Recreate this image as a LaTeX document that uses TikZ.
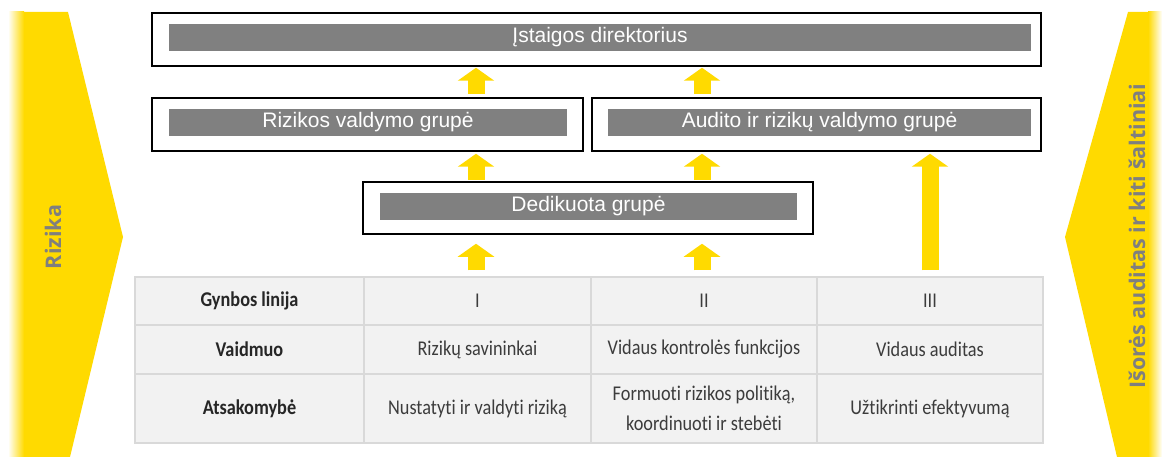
\documentclass[tikz,border=0pt]{standalone}
\usepackage{fontspec}
\setmainfont{Liberation Sans}
\newfontfamily\tblfont[FakeStretch=0.87,RawFeature={-liga}]{Carlito}
\newfontfamily\sidefont{Open Sans}
\usetikzlibrary{arrows.meta}
\definecolor{ylw}{RGB}{255,218,0}
\definecolor{bargray}{RGB}{128,128,128}
\definecolor{sidegray}{RGB}{127,127,127}
\definecolor{tblfill}{RGB}{242,242,242}
\definecolor{tblline}{RGB}{217,217,217}
\definecolor{tbltext}{RGB}{60,60,60}
\definecolor{tblhead}{RGB}{38,38,38}
\begin{document}
\begin{tikzpicture}[x=1pt,y=-1pt,
  outerbox/.style={draw=black, line width=1.5pt, fill=white, inner sep=0pt},
  barbox/.style={fill=bargray, text=white, font=\fontsize{21}{25}\selectfont, minimum height=27pt, inner sep=0pt},
  yarrow/.style={draw=ylw, line width=17pt, -{Triangle[width=36pt,length=13pt]}},
  cell/.style={draw=tblline, line width=1.5pt, fill=tblfill, inner sep=0pt, align=center, text=tbltext, font=\tblfont\fontsize{21}{30}\selectfont},
  headcell/.style={cell, text=tblhead, font=\tblfont\bfseries\fontsize{21}{30}\selectfont},
  sidetext/.style={text=sidegray, font=\sidefont\bfseries\fontsize{21.5}{25}\selectfont, rotate=90}
]
\useasboundingbox (0,0) rectangle (1164,457);
\fill[white] (0,0) rectangle (1164,457);

% side chevrons
\fill[ylw] (22,12) -- (68,12) -- (123,237) -- (70,457) -- (22,457) -- cycle;
\shade[left color=white, right color=ylw] (8,12) rectangle (24,457);
\node[sidetext] (rizika) at (53,237) {Rizika};

\fill[ylw] (1128,12) -- (1150,12) -- (1150,457) -- (1117,457) -- (1065,237) -- cycle;
\shade[left color=ylw, right color=white] (1148,12) rectangle (1162,457);
\node[sidetext] (isores) at (1137,236) {Išorės auditas ir kiti šaltiniai};

% boxes
\node[outerbox, minimum width=889pt, minimum height=53pt] (dirout) at (596.5,39.5) {};
\node[barbox, minimum width=862pt] (dir) at (600,37.5) {Įstaigos direktorius};

\node[outerbox, minimum width=431pt, minimum height=53pt] (rvgout) at (367.5,124.5) {};
\node[barbox, minimum width=398pt] (rvg) at (368,122.5) {Rizikos valdymo grupė};

\node[outerbox, minimum width=449pt, minimum height=53pt] (arvgout) at (816.5,124.5) {};
\node[barbox, minimum width=423pt] (arvg) at (819.5,122.5) {Audito ir rizikų valdymo grupė};

\node[outerbox, minimum width=450pt, minimum height=52pt] (dedout) at (588,208) {};
\node[barbox, minimum width=417pt] (ded) at (588.5,206.5) {Dedikuota grupė};

% table
\node[headcell, minimum width=229pt, minimum height=48pt] (c00) at (249.5,301) {Gynbos linija};
\node[cell, minimum width=227pt, minimum height=48pt] (c01) at (477.5,301) {I};
\node[cell, minimum width=226pt, minimum height=48pt] (c02) at (704,301) {II};
\node[cell, minimum width=226pt, minimum height=48pt] (c03) at (930,301) {III};

\node[headcell, minimum width=229pt, minimum height=49pt] (c10) at (249.5,349.5) {Vaidmuo};
\node[cell, minimum width=227pt, minimum height=49pt] (c11) at (477.5,349.5) {Rizikų savininkai};
\node[cell, minimum width=226pt, minimum height=49pt] (c12) at (704,349.5) {Vidaus kontrolės funkcijos};
\node[cell, minimum width=226pt, minimum height=49pt] (c13) at (930,349.5) {Vidaus auditas};

\node[headcell, minimum width=229pt, minimum height=69pt] (c20) at (249.5,408.5) {Atsakomybė};
\node[cell, minimum width=227pt, minimum height=69pt] (c21) at (477.5,408.5) {Nustatyti ir valdyti riziką};
\node[cell, minimum width=226pt, minimum height=69pt] (c22) at (704,408.5) {Formuoti rizikos politiką,\\koordinuoti ir stebėti};
\node[cell, minimum width=226pt, minimum height=69pt] (c23) at (930,408.5) {Užtikrinti efektyvumą};

% arrows
\draw[yarrow, shorten <=6pt, shorten >=9pt] ([xshift=-1.5pt]c01.north) -- ([xshift=-1.5pt]dedout.south -| c01.north);
\draw[yarrow, shorten <=6pt, shorten >=9pt] ([xshift=-2pt]c02.north) -- ([xshift=-2pt]dedout.south -| c02.north);
\draw[yarrow, shorten <=6pt, shorten >=2pt] (c03.north) -- (arvgout.south -| c03.north);

\draw[yarrow, shorten <=1pt, shorten >=2pt] ([xshift=-1.5pt]dedout.north -| c01.north) -- ([xshift=-1.5pt]rvgout.south -| c01.north);
\draw[yarrow, shorten <=1pt, shorten >=2pt] ([xshift=-2pt]dedout.north -| c02.north) -- ([xshift=-2pt]arvgout.south -| c02.north);

\draw[yarrow, shorten <=3pt, shorten >=1pt] ([xshift=-1.5pt]rvgout.north -| c01.north) -- ([xshift=-1.5pt]dirout.south -| c01.north);
\draw[yarrow, shorten <=3pt, shorten >=1pt] ([xshift=-2pt]arvgout.north -| c02.north) -- ([xshift=-2pt]dirout.south -| c02.north);
\end{tikzpicture}
\end{document}
